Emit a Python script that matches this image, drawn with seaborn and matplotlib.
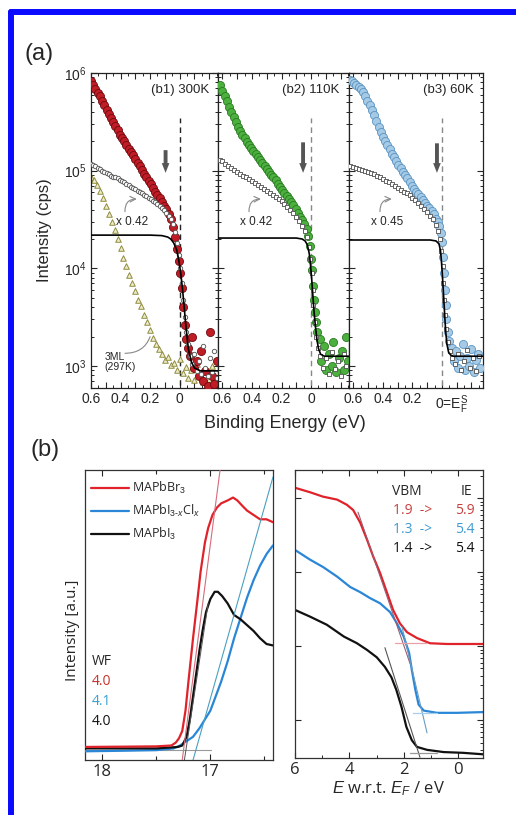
import numpy as np
import matplotlib
matplotlib.use('Agg')
import matplotlib.pyplot as plt
from matplotlib.lines import Line2D
from matplotlib.ticker import MultipleLocator, FuncFormatter, LogLocator, NullFormatter, FixedLocator
import seaborn as sns

sns.set_style('ticks')
plt.rcParams['font.family'] = ['Liberation Sans', 'DejaVu Sans']
plt.rcParams['mathtext.fontset'] = 'custom'
plt.rcParams['mathtext.rm'] = 'Liberation Sans'
plt.rcParams['mathtext.it'] = 'Liberation Sans:italic'
plt.rcParams['mathtext.bf'] = 'Liberation Sans:bold'

# ---------------- panel (a) data: binding energy (eV) and log10 intensity (cps)
x300 = [0.60, 0.585, 0.57, 0.555, 0.54, 0.525, 0.51, 0.495, 0.48, 0.465, 0.45, 0.435, 0.42, 0.405, 0.39,
        0.375, 0.36, 0.345, 0.33, 0.315, 0.30, 0.285, 0.27, 0.255, 0.24, 0.225, 0.21, 0.195, 0.18, 0.165,
        0.15, 0.135, 0.12, 0.105, 0.09, 0.075, 0.06, 0.045, 0.03, 0.015, 0.005, -0.005, -0.015, -0.025,
        -0.035, -0.045, -0.055, -0.07, -0.085, -0.10, -0.115, -0.13, -0.145, -0.16, -0.175, -0.19, -0.205,
        -0.22, -0.235, -0.25]
red300 = [5.92, 5.88, 5.84, 5.80, 5.76, 5.71, 5.67, 5.62, 5.58, 5.54, 5.50, 5.46, 5.42, 5.37, 5.33,
          5.30, 5.26, 5.22, 5.19, 5.16, 5.12, 5.08, 5.05, 5.01, 4.97, 4.93, 4.89, 4.86, 4.82, 4.78,
          4.75, 4.72, 4.68, 4.64, 4.61, 4.56, 4.50, 4.42, 4.32, 4.20, 4.08, 3.95, 3.80, 3.60,
          3.42, 3.28, 3.18, 3.10, 3.30, 2.98, 3.05, 2.90, 3.15, 2.85, 2.95, 2.80, 3.35,
          2.90, 2.82, 3.05]
gray300 = [5.07, 5.06, 5.05, 5.03, 5.02, 5.00, 4.99, 4.98, 4.97, 4.95, 4.94, 4.93, 4.92, 4.90, 4.89,
           4.88, 4.86, 4.85, 4.83, 4.82, 4.81, 4.79, 4.78, 4.77, 4.75, 4.74, 4.72, 4.71, 4.69, 4.68,
           4.66, 4.64, 4.62, 4.60, 4.57, 4.54, 4.50, 4.45, 4.37, 4.26, 4.14, 4.00, 3.85, 3.68,
           3.50, 3.35, 3.22, 3.10, 3.02, 3.12, 2.95, 3.05, 2.92, 3.20, 2.98, 2.90, 3.08,
           2.94, 3.15, 2.88]
x3ml = [0.60, 0.58, 0.56, 0.54, 0.52, 0.50, 0.48, 0.46, 0.44, 0.42, 0.40, 0.38, 0.36, 0.34, 0.32,
        0.30, 0.28, 0.26, 0.24, 0.22, 0.20, 0.18, 0.16, 0.14, 0.12, 0.10, 0.08, 0.06, 0.04, 0.02,
        0.00, -0.02, -0.04, -0.06, -0.08, -0.10, -0.12, -0.14, -0.16, -0.18, -0.20, -0.22, -0.24]
ml3 = [4.93, 4.90, 4.85, 4.79, 4.72, 4.64, 4.56, 4.47, 4.39, 4.30, 4.21, 4.11, 4.02, 3.93, 3.85,
       3.77, 3.68, 3.61, 3.52, 3.45, 3.37, 3.29, 3.23, 3.17, 3.12, 3.06, 3.09, 3.01, 3.03, 2.96,
       3.07, 2.93, 2.99, 2.88, 2.96, 2.86, 3.02, 2.90, 2.84, 2.97, 2.87, 3.00, 2.85]
fit1_x = [0.60, 0.20, 0.12, 0.08, 0.06, 0.04, 0.02, 0.01, 0.0, -0.01, -0.02, -0.03, -0.04, -0.05,
          -0.06, -0.08, -0.10, -0.14, -0.26]
fit1 = [4.34, 4.34, 4.335, 4.32, 4.30, 4.26, 4.19, 4.12, 4.03, 3.92, 3.78, 3.62, 3.45, 3.30,
        3.17, 3.04, 2.98, 2.95, 2.95]

x110 = [0.615, 0.60, 0.585, 0.57, 0.555, 0.54, 0.525, 0.51, 0.495, 0.48, 0.465, 0.45, 0.435, 0.42,
        0.405, 0.39, 0.375, 0.36, 0.345, 0.33, 0.315, 0.30, 0.285, 0.27, 0.255, 0.24, 0.225, 0.21,
        0.195, 0.18, 0.165, 0.15, 0.135, 0.12, 0.105, 0.09, 0.075, 0.06, 0.045, 0.03, 0.018, 0.008,
        0.0, -0.006, -0.012, -0.018, -0.025, -0.032, -0.04, -0.06, -0.07, -0.09, -0.10, -0.12, -0.14,
        -0.15, -0.17, -0.19, -0.21, -0.22, -0.24, -0.25]
green110 = [5.88, 5.82, 5.76, 5.71, 5.65, 5.60, 5.55, 5.50, 5.45, 5.41, 5.37, 5.33, 5.29, 5.26,
            5.23, 5.20, 5.17, 5.14, 5.11, 5.08, 5.05, 5.02, 4.99, 4.96, 4.93, 4.90, 4.86, 4.83,
            4.80, 4.77, 4.74, 4.71, 4.68, 4.65, 4.61, 4.57, 4.53, 4.49, 4.45, 4.40, 4.33, 4.23,
            4.10, 3.98, 3.82, 3.68, 3.55, 3.45, 3.35, 3.28, 3.05, 3.20, 2.96, 3.12, 3.00,
            3.25, 2.94, 3.08, 3.15, 2.96, 3.30, 3.05]
xsq110 = [0.615, 0.60, 0.58, 0.56, 0.54, 0.52, 0.50, 0.48, 0.46, 0.44, 0.42, 0.40, 0.38, 0.36, 0.34,
          0.32, 0.30, 0.28, 0.26, 0.24, 0.22, 0.20, 0.18, 0.16, 0.14, 0.12, 0.10, 0.08, 0.06, 0.04,
          0.025, 0.012, 0.004, -0.004, -0.01, -0.016, -0.024, -0.034, -0.045, -0.06, -0.08, -0.10,
          -0.12, -0.14, -0.16, -0.18, -0.20, -0.22, -0.24]
gray110 = [5.11, 5.10, 5.07, 5.05, 5.03, 5.01, 4.99, 4.97, 4.95, 4.93, 4.91, 4.89, 4.87, 4.85, 4.83,
           4.81, 4.79, 4.77, 4.75, 4.73, 4.71, 4.69, 4.66, 4.63, 4.60, 4.57, 4.53, 4.48, 4.43, 4.38,
           4.32, 4.22, 4.10, 3.95, 3.78, 3.62, 3.45, 3.30, 3.18, 3.10, 2.98, 3.08,
           2.92, 3.14, 2.97, 3.05, 2.90, 3.12, 3.00]
fit2_x = [0.63, 0.10, 0.06, 0.04, 0.025, 0.012, 0.004, -0.004, -0.012, -0.02, -0.03, -0.04, -0.05,
          -0.065, -0.09, -0.26]
fit2 = [4.31, 4.31, 4.30, 4.28, 4.24, 4.15, 4.04, 3.90, 3.73, 3.56, 3.40, 3.27, 3.18, 3.12, 3.10, 3.10]

x60 = [0.625, 0.61, 0.595, 0.58, 0.565, 0.55, 0.535, 0.52, 0.505, 0.49, 0.475, 0.46, 0.445, 0.43,
       0.415, 0.40, 0.385, 0.37, 0.355, 0.34, 0.325, 0.31, 0.295, 0.28, 0.265, 0.25, 0.235, 0.22,
       0.205, 0.19, 0.175, 0.16, 0.145, 0.13, 0.115, 0.10, 0.085, 0.07, 0.055, 0.04, 0.028, 0.018,
       0.008, 0.0, -0.006, -0.012, -0.018, -0.024, -0.03, -0.04, -0.05, -0.065, -0.08, -0.095, -0.11,
       -0.125, -0.14, -0.155, -0.17, -0.185, -0.20, -0.215, -0.23, -0.245, -0.26]
blue60 = [5.93, 5.92, 5.90, 5.88, 5.86, 5.84, 5.81, 5.76, 5.71, 5.67, 5.62, 5.57, 5.51, 5.45,
          5.40, 5.34, 5.30, 5.26, 5.22, 5.17, 5.14, 5.10, 5.06, 5.03, 4.99, 4.96, 4.92, 4.88,
          4.84, 4.81, 4.78, 4.76, 4.73, 4.70, 4.67, 4.64, 4.62, 4.59, 4.56, 4.51, 4.47, 4.43,
          4.36, 4.27, 4.12, 3.95, 3.78, 3.62, 3.48, 3.35, 3.26, 3.18, 3.05, 3.15, 2.98,
          3.10, 3.22, 2.96, 3.08, 3.00, 3.17, 2.94, 3.06, 3.12, 2.98]
xsq60 = [0.625, 0.60, 0.58, 0.56, 0.54, 0.52, 0.50, 0.48, 0.46, 0.44, 0.42, 0.40, 0.38, 0.36, 0.34,
         0.32, 0.30, 0.28, 0.26, 0.24, 0.22, 0.20, 0.18, 0.16, 0.14, 0.12, 0.10, 0.08, 0.06, 0.04,
         0.025, 0.012, 0.004, -0.004, -0.01, -0.016, -0.022, -0.03, -0.04, -0.055, -0.07, -0.09,
         -0.11, -0.13, -0.15, -0.17, -0.19, -0.21, -0.23, -0.25]
gray60 = [5.05, 5.04, 5.03, 5.02, 5.01, 5.00, 4.99, 4.98, 4.97, 4.95, 4.93, 4.91, 4.89, 4.88, 4.86,
          4.84, 4.82, 4.80, 4.78, 4.77, 4.75, 4.72, 4.70, 4.67, 4.64, 4.61, 4.58, 4.54, 4.50, 4.44,
          4.38, 4.30, 4.18, 4.02, 3.85, 3.68, 3.52, 3.38, 3.25, 3.15, 3.08, 3.02,
          3.12, 2.96, 3.05, 3.16, 2.98, 3.08, 2.95, 3.10]
fit3_x = [0.64, 0.08, 0.04, 0.02, 0.01, 0.004, -0.002, -0.008, -0.014, -0.02, -0.026, -0.034,
          -0.045, -0.06, -0.08, -0.28]
fit3 = [4.29, 4.29, 4.28, 4.25, 4.18, 4.08, 3.95, 3.80, 3.64, 3.48, 3.34, 3.22, 3.14, 3.11, 3.10, 3.10]

# ---------------- panel (b) data
# secondary electron cutoff (kinetic energy, normalised intensity)
br_x = [18.16, 17.80, 17.50, 17.36, 17.32, 17.29, 17.26, 17.23, 17.20, 17.16, 17.12, 17.09, 17.05,
        17.02, 16.98, 16.94, 16.90, 16.84, 16.79, 16.75, 16.70, 16.66, 16.60, 16.54, 16.48, 16.42]
br_y = [0.045, 0.046, 0.047, 0.05, 0.06, 0.075, 0.10, 0.17, 0.28, 0.42, 0.55, 0.65, 0.75,
        0.80, 0.845, 0.87, 0.885, 0.895, 0.905, 0.895, 0.875, 0.86, 0.845, 0.83, 0.83, 0.82]
i3_x = [18.16, 17.80, 17.50, 17.30, 17.26, 17.22, 17.19, 17.16, 17.13, 17.10, 17.07, 17.04, 17.00,
        16.96, 16.93, 16.89, 16.84, 16.78, 16.72, 16.66, 16.60, 16.54, 16.48, 16.42]
i3_y = [0.04, 0.04, 0.04, 0.045, 0.05, 0.08, 0.14, 0.22, 0.30, 0.38, 0.45, 0.51, 0.555,
        0.58, 0.58, 0.565, 0.54, 0.50, 0.485, 0.465, 0.445, 0.42, 0.40, 0.395]
cl_x = [18.16, 17.80, 17.50, 17.34, 17.28, 17.22, 17.16, 17.10, 17.05, 17.00, 16.95, 16.90, 16.84,
        16.78, 16.72, 16.66, 16.60, 16.54, 16.48, 16.42]
cl_y = [0.03, 0.032, 0.034, 0.04, 0.05, 0.065, 0.08, 0.11, 0.14, 0.17, 0.22, 0.27, 0.34,
        0.42, 0.49, 0.56, 0.62, 0.67, 0.71, 0.74]

# valence band (E w.r.t. EF, log10 intensity)
vbr_x = [6.0, 5.45, 4.97, 4.45, 4.09, 3.86, 3.60, 3.35, 3.12, 2.87, 2.61, 2.39, 2.14, 1.88, 1.51,
         1.03, 0.41, -0.18, -0.92]
vbr = [4.14, 4.08, 4.02, 3.98, 3.91, 3.84, 3.67, 3.44, 3.21, 2.99, 2.72, 2.49, 2.31, 2.19, 2.11,
       2.04, 2.03, 2.03, 2.03]
vcl_x = [6.0, 5.45, 4.97, 4.45, 3.97, 3.60, 3.24, 2.87, 2.50, 2.25, 2.0, 1.80, 1.70, 1.57, 1.45,
         1.26, 0.77, 0.04, -0.92]
vcl = [3.30, 3.17, 3.07, 2.94, 2.80, 2.73, 2.65, 2.58, 2.46, 2.31, 2.13, 1.91, 1.68, 1.41, 1.21,
       1.13, 1.10, 1.10, 1.11]
vi3_x = [6.0, 5.45, 4.83, 4.20, 3.72, 3.35, 2.99, 2.69, 2.45, 2.27, 2.08, 1.90, 1.70, 1.51, 1.14,
         0.53, -0.18, -0.92]
vi3 = [2.49, 2.40, 2.29, 2.13, 2.04, 1.95, 1.85, 1.72, 1.58, 1.41, 1.18, 0.91, 0.73, 0.64, 0.60,
       0.57, 0.56, 0.54]

labels_b = ['MAPbBr$_3$', 'MAPbI$_{3\\text{-}x}$Cl$_x$', 'MAPbI$_3$']
wf_vals = ['4.0', '4.1', '4.0']
vbm_vals = ['1.9', '1.3', '1.4']
ie_vals = ['5.9', '5.4', '5.4']

W, H = 516, 815
fig = plt.figure(figsize=(W / 100, H / 100), dpi=100)


def rect(l, t, r, b):
    return [l / W, 1 - b / H, (r - l) / W, (b - t) / H]


def L(v):
    return 10 ** np.array(v)


# blue frame
fig.add_artist(Line2D([11 / W, 11 / W], [0, 1 - 12 / H], transform=fig.transFigure, color='#0a0aff', lw=4.3))
fig.add_artist(Line2D([11 / W, 1], [1 - 12 / H, 1 - 12 / H], transform=fig.transFigure, color='#0a0aff', lw=4.3))
fig.text(24 / W, 1 - 54 / H, '(a)', fontsize=17, va='center', ha='left')
fig.text(30 / W, 1 - 450 / H, '(b)', fontsize=17, va='center', ha='left')

panels = [
    dict(r=rect(91, 73, 218, 388), xlim=(0.60, -0.26), fill='#c01c26', edge='#700a10',
         xs=x300, ys=red300, gx=x300, gy=gray300, gm='o', fx=fit1_x, fy=fit1,
         title='(b1) 300K', scale='x 0.42', dash='#222', arr_x=0.095, arr_top=5.21),
    dict(r=rect(218, 73, 349, 388), xlim=(0.63, -0.257), fill='#4cb03e', edge='#2a7a22',
         xs=x110, ys=green110, gx=xsq110, gy=gray110, gm='s', fx=fit2_x, fy=fit2,
         title='(b2) 110K', scale='x 0.42', dash='#888', arr_x=0.054, arr_top=5.29),
    dict(r=rect(349, 73, 483, 388), xlim=(0.63, -0.278), fill='#a4cae6', edge='#5b93c2',
         xs=x60, ys=blue60, gx=xsq60, gy=gray60, gm='s', fx=fit3_x, fy=fit3,
         title='(b3) 60K', scale='x 0.45', dash='#888', arr_x=0.034, arr_top=5.28),
]

for i, p in enumerate(panels):
    ax = fig.add_axes(p['r'])
    ax.set_yscale('log')
    if i == 0:
        sns.scatterplot(x=x3ml, y=L(ml3), ax=ax, marker='^', s=16, color='#efeccb',
                        edgecolor='#8e8c3e', linewidth=0.7, zorder=2, legend=False)
    sns.scatterplot(x=p['xs'], y=L(p['ys']), ax=ax, marker='o', s=34, color=p['fill'],
                    edgecolor=p['edge'], linewidth=0.6, zorder=3, legend=False)
    sns.scatterplot(x=p['gx'], y=L(p['gy']), ax=ax, marker=p['gm'], s=10, color='white',
                    edgecolor='#5a5a5a', linewidth=0.65, zorder=4, legend=False)
    sns.lineplot(x=p['fx'], y=L(p['fy']), ax=ax, color='black', lw=1.2, zorder=5,
                 estimator=None, sort=False)
    ax.plot([0, 0], [500, 3.5e5], ls=(0, (4, 3)), color=p['dash'], lw=1, zorder=1)
    ax.annotate('', xy=(p['arr_x'], 9.5e4), xytext=(p['arr_x'], 10 ** p['arr_top']),
                arrowprops=dict(arrowstyle='simple,head_width=0.55,head_length=0.7,tail_width=0.28',
                                fc='#555', ec='none', shrinkA=0, shrinkB=0))
    ax.text(0.93, 0.965, p['title'], transform=ax.transAxes, ha='right', va='top', fontsize=9.5)
    sx = 0.43 if i == 0 else 0.48
    ax.text(sx, 10 ** 4.47, p['scale'], ha='left', va='center', fontsize=8.5)
    ax.annotate('', xy=(sx - 0.14, 10 ** 4.71), xytext=(sx - 0.06, 10 ** 4.58),
                arrowprops=dict(arrowstyle='->', color='#888', lw=0.8, shrinkA=0, shrinkB=0,
                                connectionstyle='arc3,rad=-0.5'))
    if i == 0:
        ax.text(0.51, 10 ** 3.04, '3ML\n(297K)', ha='left', va='center', fontsize=7.5, linespacing=1.0)
        ax.annotate('', xy=(0.20, 10 ** 3.30), xytext=(0.37, 10 ** 3.13),
                    arrowprops=dict(arrowstyle='-', color='#888', lw=0.8, shrinkA=0, shrinkB=0,
                                    connectionstyle='angle3,angleA=0,angleB=70'))
    ax.set_xlim(*p['xlim'])
    ax.set_ylim(595, 1.0e6)
    ax.yaxis.set_major_locator(LogLocator(base=10))
    ax.yaxis.set_minor_locator(LogLocator(base=10, subs=np.arange(2, 10)))
    ax.yaxis.set_minor_formatter(NullFormatter())
    ax.xaxis.set_major_locator(MultipleLocator(0.1))
    ax.xaxis.set_minor_locator(MultipleLocator(0.05))

    def fmt(v, pos, last=(i == 2)):
        k = int(round(v * 10))
        if k < 0 or k % 2:
            return ''
        if k == 0:
            return '' if last else '0'
        return '%.1f' % (k / 10)
    ax.xaxis.set_major_formatter(FuncFormatter(fmt))
    ax.tick_params(which='both', direction='in', top=True, right=True, labelsize=10, pad=3)
    ax.tick_params(which='major', length=4.5, width=0.8)
    ax.tick_params(which='minor', length=2.5, width=0.7)
    if i > 0:
        ax.tick_params(labelleft=False)
    else:
        ax.set_ylabel('Intensity (cps)', fontsize=12, labelpad=9)
    if i == 2:
        ax.text(-0.068, -0.018, '0=E$_{\\rm F}^{\\rm S}$', transform=ax.get_xaxis_transform(),
                ha='center', va='top', fontsize=10)
    for s in ax.spines.values():
        s.set_linewidth(0.9)
        s.set_color('#222')

fig.text(285 / W, 1 - 423 / H, 'Binding Energy (eV)', ha='center', va='center', fontsize=13)

# ---------------- panel (b) left: secondary electron cut-off
sans_b = ['Open Sans', 'DejaVu Sans']
c_red, c_blue, c_blk = '#e0222a', '#2a86d6', '#111111'
axl = fig.add_axes(rect(85, 470, 273, 760))
sns.lineplot(x=br_x, y=br_y, ax=axl, color=c_red, lw=1.6, label=labels_b[0], estimator=None, sort=False, zorder=4)
sns.lineplot(x=cl_x, y=cl_y, ax=axl, color=c_blue, lw=1.6, label=labels_b[1], estimator=None, sort=False, zorder=3)
sns.lineplot(x=i3_x, y=i3_y, ax=axl, color=c_blk, lw=1.6, label=labels_b[2], estimator=None, sort=False, zorder=3)
axl.plot([17.26, 16.91], [0.0, 1.0], color='#d86a7a', lw=0.8, zorder=5)
axl.plot([17.16, 16.42], [0.0, 0.976], color='#4aa0c0', lw=0.8, zorder=5)
axl.plot([17.24, 17.02], [0.0, 0.54], color='#555', lw=0.7, zorder=5)
axl.plot([18.16, 16.99], [0.035, 0.035], color='#999', lw=0.8, zorder=2)
axl.set_xlim(18.16, 16.42)
axl.set_ylim(0, 1.0)
axl.set_yticks([])
axl.xaxis.set_major_locator(FixedLocator([18, 17]))
axl.xaxis.set_minor_locator(FixedLocator([17.5, 16.5]))
axl.tick_params(which='both', direction='in', top=True, labelsize=12, pad=3)
axl.tick_params(which='major', length=4, width=0.8)
axl.tick_params(which='minor', length=3, width=0.8)
for t in axl.get_xticklabels():
    t.set_family(sans_b)
axl.set_xlabel('')
axl.set_ylabel('')
leg = axl.legend(loc='upper left', frameon=False, fontsize=9, handlelength=3.0,
                 bbox_to_anchor=(-0.02, 1.0), labelspacing=0.55, handletextpad=0.3, borderaxespad=0.4)
for t in leg.get_texts():
    t.set_family(sans_b)
axl.text(0.037, 0.338, 'WF', transform=axl.transAxes, fontsize=10, family=sans_b, va='center')
for j, (v, c) in enumerate(zip(wf_vals, ['#c8302c', '#3aa0d2', '#111'])):
    axl.text(0.037, 0.272 - j * 0.07, v, transform=axl.transAxes, fontsize=10, family=sans_b,
             va='center', color=c)
fig.text(73 / W, 1 - 630 / H, 'Intensity [a.u.]', rotation=90, ha='center', va='center',
         fontsize=11, family=sans_b)

# ---------------- panel (b) right: valence band
axr = fig.add_axes(rect(295, 470, 483, 758))
axr.set_yscale('log')
sns.lineplot(x=vbr_x, y=L(vbr), ax=axr, color=c_red, lw=1.6, estimator=None, sort=False)
sns.lineplot(x=vcl_x, y=L(vcl), ax=axr, color=c_blue, lw=1.6, estimator=None, sort=False)
sns.lineplot(x=vi3_x, y=L(vi3), ax=axr, color=c_blk, lw=1.6, estimator=None, sort=False)
axr.plot([3.68, 1.77], L([3.81, 1.77]), color='#9a5f72', lw=0.8)
axr.plot([2.06, 1.14], L([2.26, 0.83]), color='#6a9cc0', lw=0.8)
axr.plot([2.69, 1.40], L([1.98, 0.50]), color='#555', lw=0.8)
axr.plot([2.32, 1.14], L([2.04, 2.04]), color='#eaa0a8', lw=0.9)
axr.plot([1.66, 0.77], L([1.10, 1.10]), color='#a6cdea', lw=0.9)
axr.plot([1.77, 0.77], L([0.56, 0.56]), color='#999', lw=0.9)
axr.set_xlim(6, -0.92)
axr.set_ylim(10 ** 0.49, 10 ** 4.38)
axr.yaxis.set_major_locator(LogLocator(base=10))
axr.yaxis.set_minor_locator(LogLocator(base=10, subs=np.arange(2, 10)))
axr.yaxis.set_major_formatter(NullFormatter())
axr.yaxis.set_minor_formatter(NullFormatter())
axr.xaxis.set_major_locator(FixedLocator([6, 4, 2, 0]))
axr.xaxis.set_minor_locator(FixedLocator([5, 3, 1]))
axr.tick_params(which='both', direction='in', top=True, right=True, labelsize=12, pad=3)
axr.tick_params(which='major', length=4, width=0.8)
axr.tick_params(which='minor', length=2.5, width=0.7, left=False)
for t in axr.get_xticklabels():
    t.set_family(sans_b)
axr.set_ylabel('')
axr.set_xlabel('$E$ w.r.t. $E_F$ / eV', fontsize=12, family=sans_b, labelpad=1)
axr.text(0.516, 0.924, 'VBM', transform=axr.transAxes, fontsize=10, family=sans_b, va='center')
axr.text(0.941, 0.924, 'IE', transform=axr.transAxes, fontsize=10, family=sans_b, va='center', ha='right')
for j, (a, b, c) in enumerate(zip(vbm_vals, ie_vals, ['#c8403c', '#3f9ad0', '#111'])):
    yy = 0.861 - j * 0.0675
    axr.text(0.521, yy, a + '  ->', transform=axr.transAxes, fontsize=10, family=sans_b, va='center', color=c)
    axr.text(0.957, yy, b, transform=axr.transAxes, fontsize=10, family=sans_b, va='center', ha='right', color=c)

for a in (axl, axr):
    for s in a.spines.values():
        s.set_linewidth(0.9)
        s.set_color('#333')

fig.savefig('out.png', dpi=100)
